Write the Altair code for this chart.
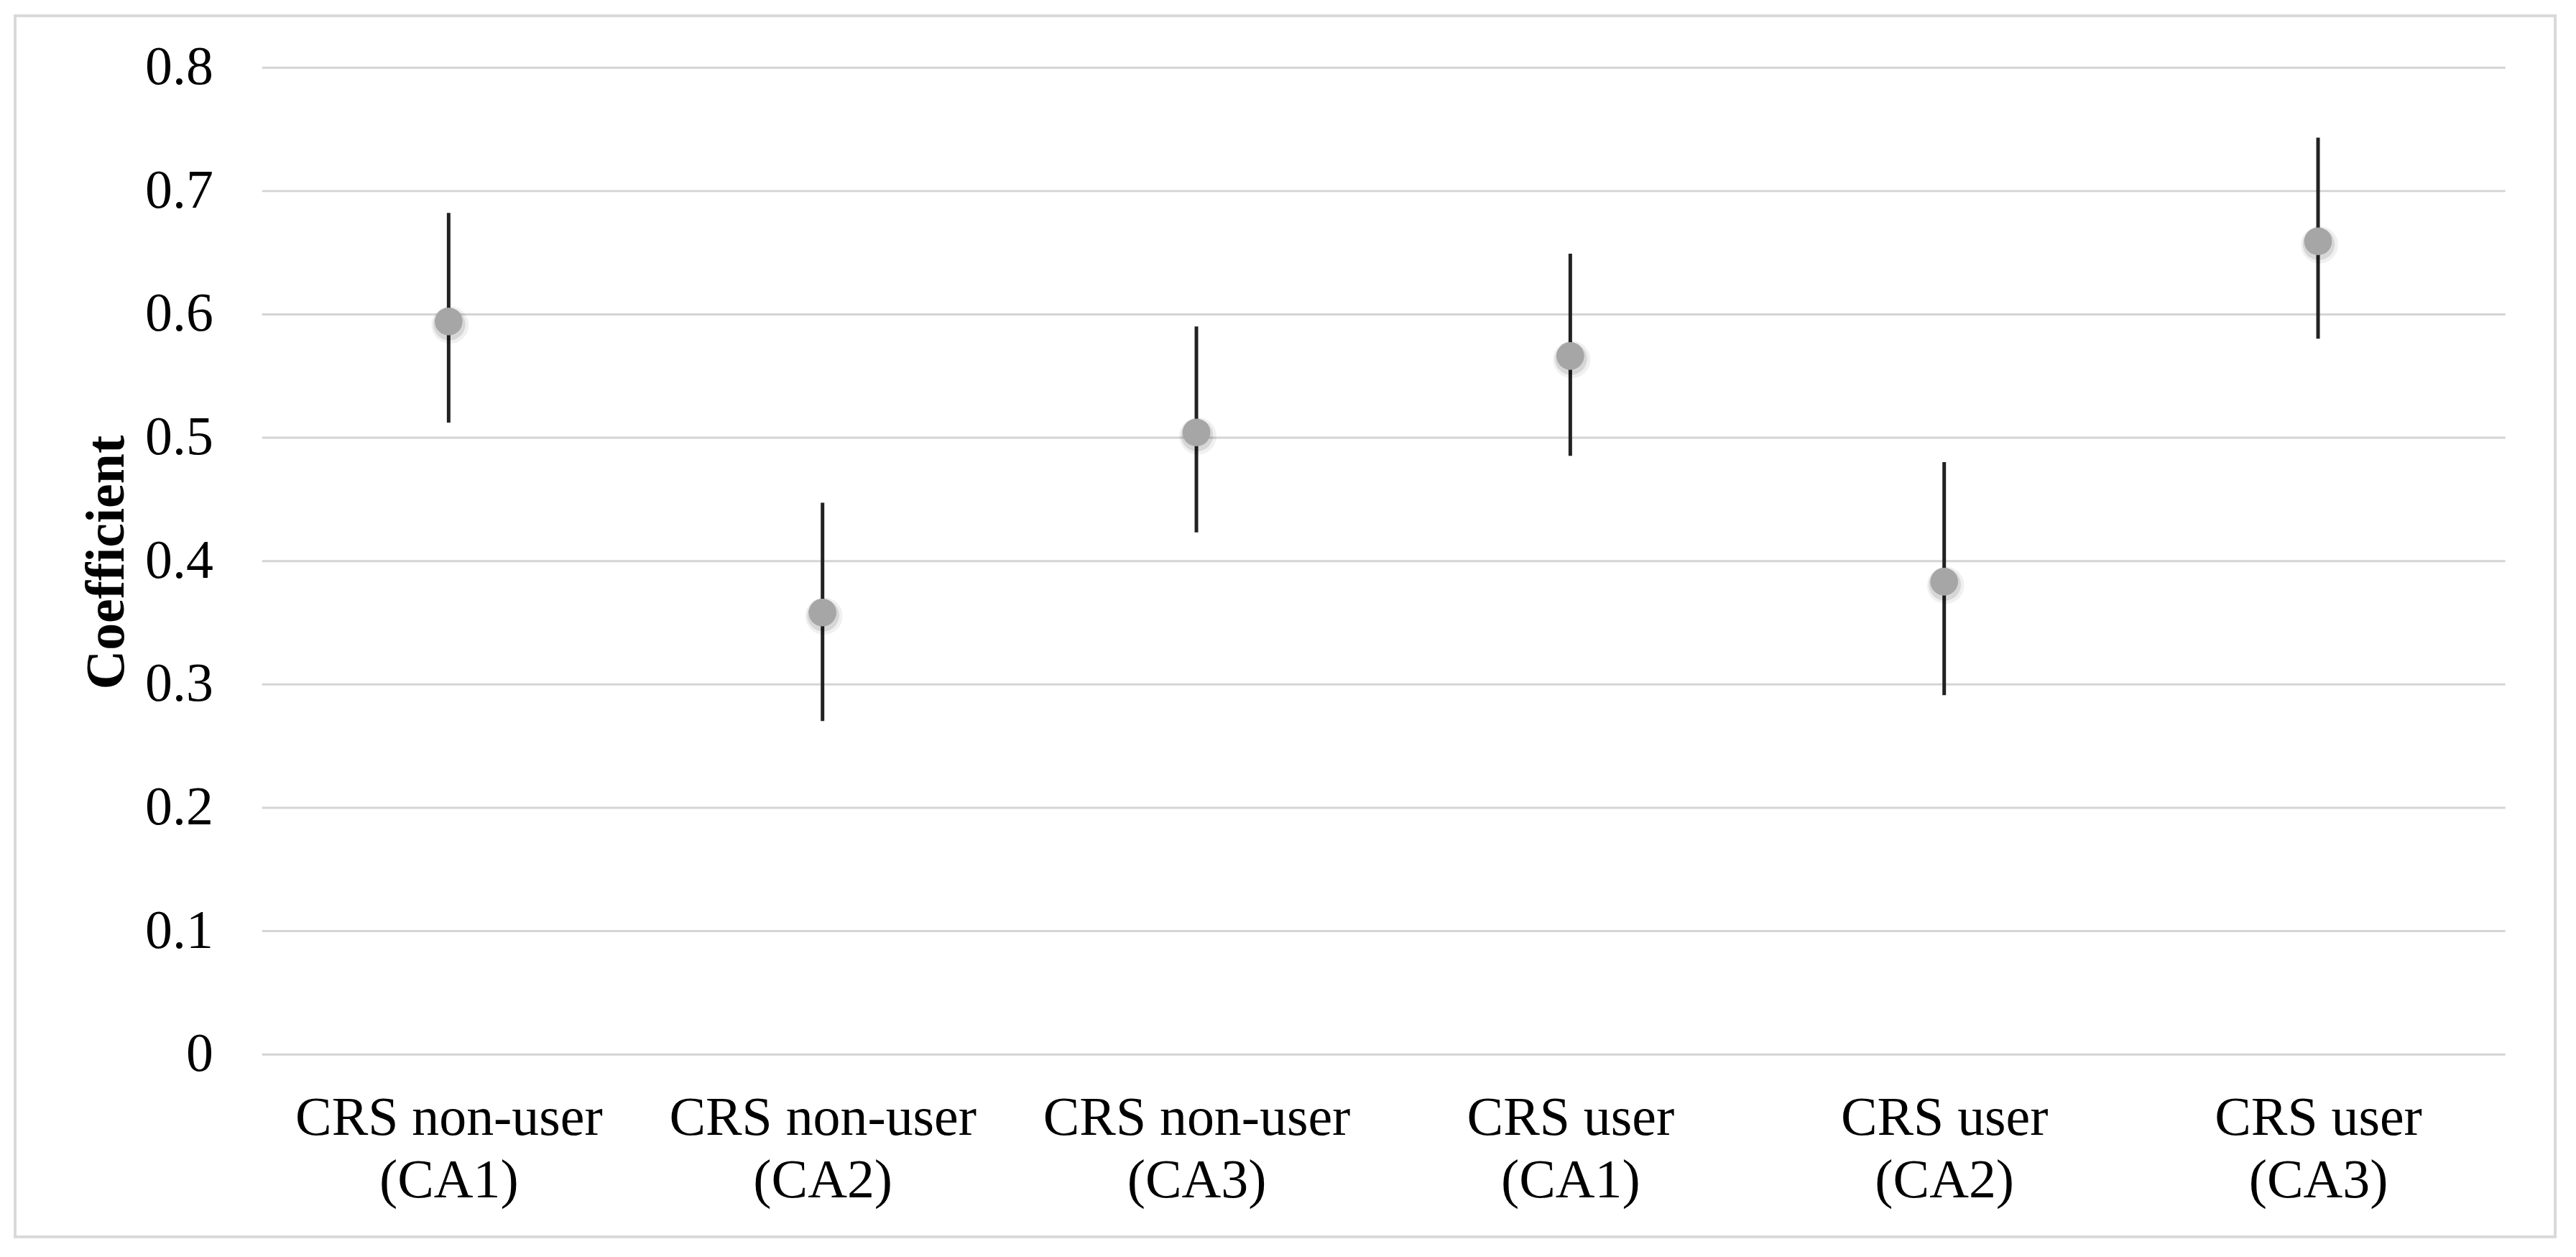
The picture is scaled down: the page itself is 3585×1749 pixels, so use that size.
import altair as alt
import pandas as pd

# ---- data ----
groups = ["CRS non-user", "CRS non-user", "CRS non-user", "CRS user", "CRS user", "CRS user"]
codes = ["(CA1)", "(CA2)", "(CA3)", "(CA1)", "(CA2)", "(CA3)"]
coef = [0.594, 0.358, 0.504, 0.566, 0.383, 0.659]
lower = [0.512, 0.270, 0.423, 0.485, 0.291, 0.580]
upper = [0.682, 0.447, 0.590, 0.649, 0.480, 0.743]
y_ticks = [0, 0.1, 0.2, 0.3, 0.4, 0.5, 0.6, 0.7, 0.8]

labels = [f"{g} {c}" for g, c in zip(groups, codes)]
df = pd.DataFrame({"cat": labels, "coef": coef, "lo": lower, "hi": upper})

FONT = "Liberation Serif"
W, H = 3129, 1376

x_enc = alt.X(
    "cat:N",
    sort=labels,
    scale=alt.Scale(type="point", padding=0.5),
    axis=alt.Axis(
        title=None,
        labelAngle=0,
        labelExpr="[slice(datum.label, 0, indexof(datum.label, ' (')), slice(datum.label, indexof(datum.label, ' (') + 1)]",
        labelFont=FONT,
        labelFontSize=76,
        labelColor="black",
        labelLineHeight=87,
        labelPadding=52,
        labelLimit=0,
        ticks=False,
        tickSize=0,
        domain=False,
        grid=False,
    ),
)

y_scale = alt.Scale(domain=[0, 0.8], nice=False, zero=True)
y_axis = alt.Axis(
    title="Coefficient",
    titleFont=FONT,
    titleFontSize=76,
    titleFontWeight="bold",
    titleColor="black",
    titleAngle=-90,
    titleBaseline="alphabetic",
    titleAlign="center",
    titleX=-193,
    titleY=H / 2 + 2,
    values=y_ticks,
    labelExpr="datum.value == 0 ? '0' : format(datum.value, '.1f')",
    labelFont=FONT,
    labelFontSize=76,
    labelColor="black",
    labelPadding=68,
    labelLimit=0,
    ticks=False,
    tickSize=0,
    domain=False,
    grid=True,
    gridColor="#d4d4d4",
    gridWidth=3,
)

base = alt.Chart(df)

border = base.mark_rect(filled=False, stroke="#d9d9d9", strokeWidth=3, clip=False).encode(
    x=alt.value(-344), x2=alt.value(3199), y=alt.value(-72), y2=alt.value(1631)
)

bars = base.mark_rule(color="#222222", strokeWidth=5).encode(
    x=x_enc,
    y=alt.Y("lo:Q", scale=y_scale, axis=y_axis),
    y2="hi:Q",
)

shadow1 = base.mark_circle(color="black", opacity=0.06, size=2700, yOffset=5, xOffset=2).encode(
    x=alt.X("cat:N", sort=labels), y=alt.Y("coef:Q")
)
shadow2 = base.mark_circle(color="black", opacity=0.10, size=2000, yOffset=4, xOffset=1).encode(
    x=alt.X("cat:N", sort=labels), y=alt.Y("coef:Q")
)
points = base.mark_circle(color="#a6a6a6", opacity=1, size=1500).encode(
    x=alt.X("cat:N", sort=labels), y=alt.Y("coef:Q")
)

chart = (
    alt.layer(border, bars, shadow1, shadow2, points)
    .properties(
        width=W,
        height=H,
        autosize=alt.AutoSizeParams(type="none"),
        padding={"left": 357, "top": 84, "right": 91, "bottom": 281},
        background="white",
    )
    .configure_view(stroke=None)
)

chart.save("out.html", embed_options={"renderer": "svg", "actions": False})
